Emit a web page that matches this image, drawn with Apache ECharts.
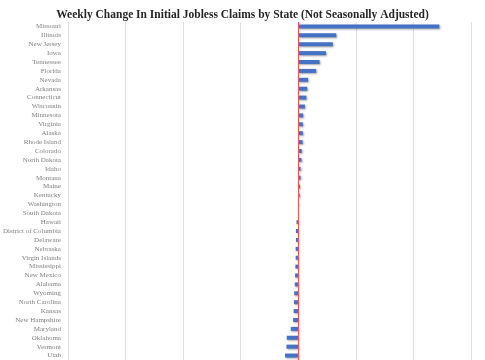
<!DOCTYPE html>
<html><head><meta charset="utf-8">
<script src="https://cdn.jsdelivr.net/npm/echarts@6/dist/echarts.min.js"></script>
<style>html,body{margin:0;padding:0;background:#fff}#c{width:485px;height:360px}</style>
</head><body><div id="c"></div>
<script>
const states = ["Missouri","Illinois","New Jersey","Iowa","Tennessee","Florida","Nevada","Arkansas","Connecticut","Wisconsin","Minnesota","Virginia","Alaska","Rhode Island","Colorado","North Dakota","Idaho","Montana","Maine","Kentucky","Washington","South Dakota","Hawaii","District of Columbia","Delaware","Nebraska","Virgin Islands","Mississippi","New Mexico","Alabama","Wyoming","North Carolina","Kansas","New Hampshire","Maryland","Oklahoma","Vermont","Utah"];
const changes = [2450,660,600,480,370,310,170,155,140,115,85,80,80,75,60,55,40,40,30,25,10,3,-30,-40,-40,-45,-45,-50,-55,-60,-70,-75,-80,-90,-130,-200,-205,-230];
const chartTitle = "Weekly Change In Initial Jobless Claims by State (Not Seasonally Adjusted)";

const chart = echarts.init(document.getElementById('c'), null, {renderer:'canvas'});
chart.setOption({
  animation:false,
  backgroundColor:'#ffffff',
  title:{text:chartTitle,left:'center',top:4,
    textStyle:{fontFamily:'Liberation Serif',fontWeight:'bold',fontSize:11.5,color:'#262626'}},
  grid:{left:65,top:22,width:406,height:339,containLabel:false},
  xAxis:{type:'value',min:-4000,max:3000,interval:1000,
    axisLabel:{show:false},axisLine:{show:false},axisTick:{show:false},
    splitLine:{show:true,lineStyle:{color:'#e0e0e0',width:1}}},
  yAxis:{type:'category',inverse:true,data:states,
    axisLine:{show:false},axisTick:{show:false},
    axisLabel:{fontFamily:'Liberation Serif',fontSize:7,color:'#808080',margin:7,interval:0}},
  series:[{type:'bar',data:changes,barWidth:4,
    itemStyle:{color:'#4472c4',shadowColor:'rgba(0,0,0,0.35)',shadowBlur:2,shadowOffsetX:1,shadowOffsetY:1},
    markLine:{silent:true,symbol:'none',label:{show:false},
      lineStyle:{color:'#ff5050',type:'solid',width:1},
      data:[{xAxis:0}]}}]
});
</script></body></html>
